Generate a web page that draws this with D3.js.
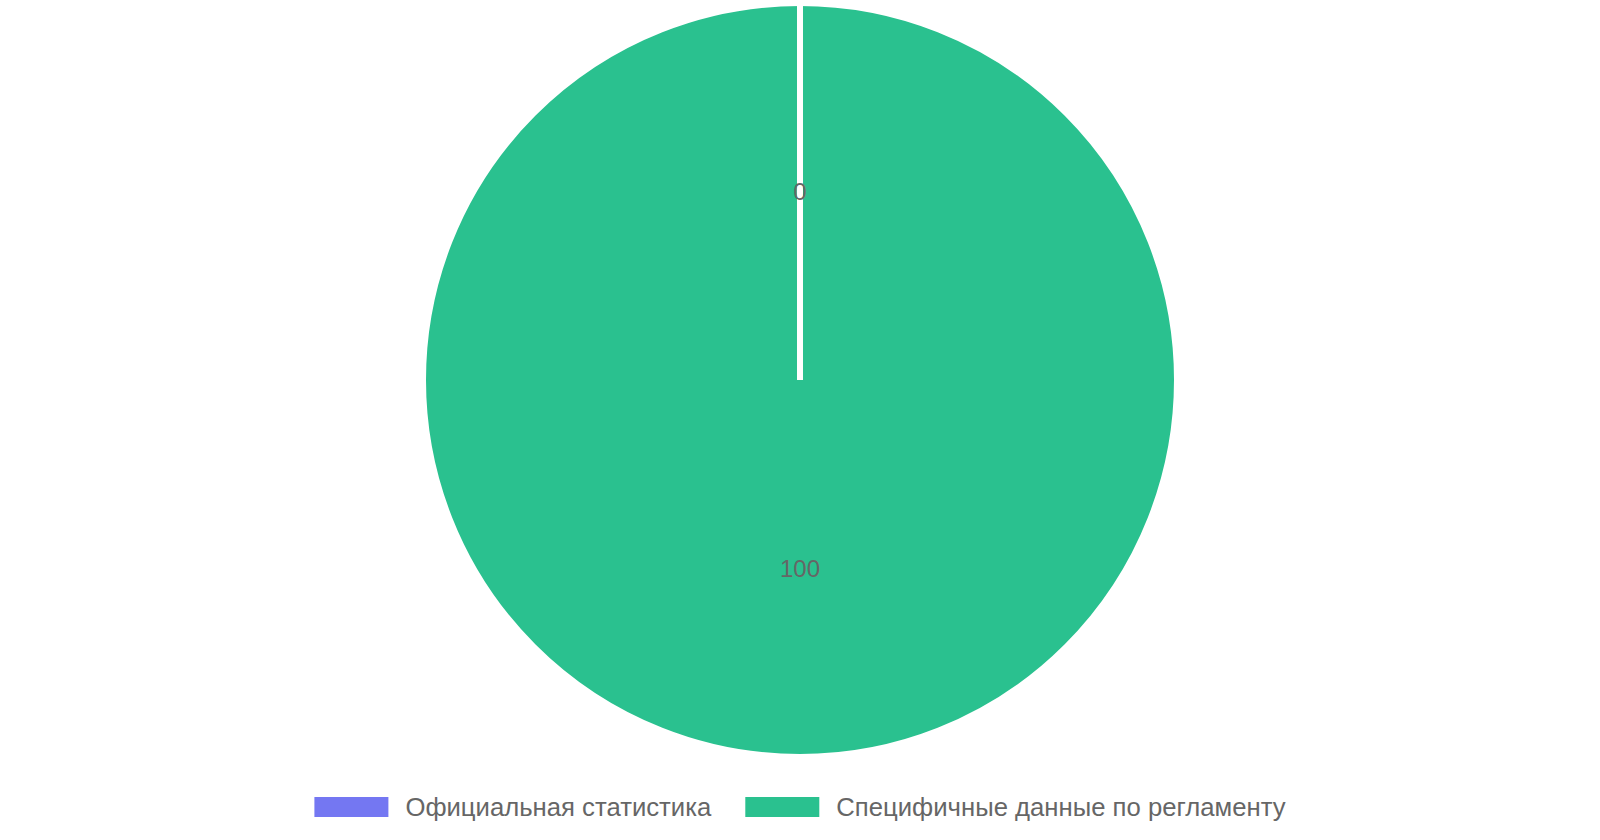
<!DOCTYPE html>
<html>
<head>
<meta charset="utf-8">
<script src="https://cdn.jsdelivr.net/npm/d3@7"></script>
<style>
  body { margin: 0; background: #fff; }
  text { font-family: "Liberation Sans", Arial, sans-serif; fill: #666; }
</style>
</head>
<body>
<div class="chart"></div>
<script>
// chart data
const categories = ["Официальная статистика", "Специфичные данные по регламенту"];
const values = [0, 100];
const colors = ["#7477f2", "#2ac18f"];

const width = 1600, height = 840;
const cx = 800, cy = 380, radius = 377;

const svg = d3.select(".chart").append("svg")
  .attr("width", width)
  .attr("height", height);

const pie = d3.pie().sort(null).value(d => d.value);
const arcs = pie(categories.map((c, i) => ({ name: c, value: values[i], color: colors[i] })));

const arc = d3.arc().innerRadius(0).outerRadius(radius);

const g = svg.append("g").attr("transform", `translate(${cx},${cy})`);

g.selectAll("path")
  .data(arcs)
  .join("path")
  .attr("d", arc)
  .attr("fill", d => d.data.color)
  .attr("stroke", "#fff")
  .attr("stroke-width", 6);

// slice borders (a full-circle arc has no radial edge, so draw them)
g.selectAll("line.border")
  .data(arcs)
  .join("line")
  .attr("class", "border")
  .attr("x1", 0).attr("y1", 0)
  .attr("x2", d => radius * Math.sin(d.startAngle))
  .attr("y2", d => -radius * Math.cos(d.startAngle))
  .attr("stroke", "#fff")
  .attr("stroke-width", 6);

// value labels at half radius
g.selectAll("text.val")
  .data(arcs)
  .join("text")
  .attr("class", "val")
  .attr("x", d => arc.centroid(d)[0])
  .attr("y", d => arc.centroid(d)[1])
  .attr("text-anchor", "middle")
  .attr("dominant-baseline", "central")
  .style("font-size", "24px")
  .text(d => d.data.value);

// legend
const boxW = 74, boxH = 20, gapText = 17, gapItem = 34, legendY = 807;
const legend = svg.append("g");
const items = legend.selectAll("g")
  .data(categories)
  .join("g");

items.append("rect")
  .attr("width", boxW)
  .attr("height", boxH)
  .attr("y", -boxH / 2)
  .attr("fill", (d, i) => colors[i]);

items.append("text")
  .attr("x", boxW + gapText)
  .attr("dominant-baseline", "central")
  .style("font-size", "25.7px")
  .text(d => d);

let x = 0;
const offsets = [];
items.each(function() {
  offsets.push(x);
  const tw = d3.select(this).select("text").node().getComputedTextLength();
  x += boxW + gapText + tw + gapItem;
});
const total = x - gapItem;
const startX = cx - total / 2;
items.attr("transform", (d, i) => `translate(${startX + offsets[i]},${legendY})`);
</script>
</body>
</html>
